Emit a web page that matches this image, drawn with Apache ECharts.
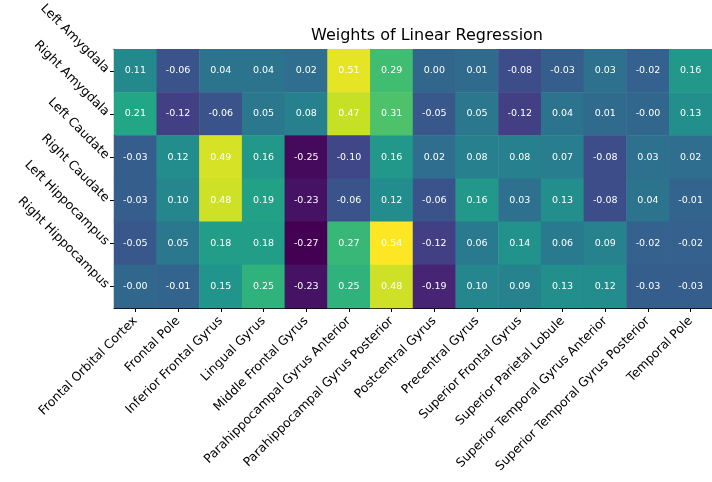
<!DOCTYPE html>
<html>
<head>
<meta charset="utf-8">
<style>
  html, body { margin: 0; padding: 0; background: #fff; }
  #chart { width: 712px; height: 482px; }
</style>
<script src="https://cdn.jsdelivr.net/npm/echarts@6/dist/echarts.min.js"></script>
</head>
<body>
<div id="chart"></div>
<script>
// Brain regions of interest (rows) and cortical regions (columns)
const rowLabels = ['Left Amygdala', 'Right Amygdala', 'Left Caudate', 'Right Caudate', 'Left Hippocampus', 'Right Hippocampus'];
const colLabels = ['Frontal Orbital Cortex', 'Frontal Pole', 'Inferior Frontal Gyrus', 'Lingual Gyrus', 'Middle Frontal Gyrus',
  'Parahippocampal Gyrus Anterior', 'Parahippocampal Gyrus Posterior', 'Postcentral Gyrus', 'Precentral Gyrus',
  'Superior Frontal Gyrus', 'Superior Parietal Lobule', 'Superior Temporal Gyrus Anterior',
  'Superior Temporal Gyrus Posterior', 'Temporal Pole'];

// Regression weights, one array per row (-0 keeps the printed sign)
const leftAmygdala     = [0.11, -0.06, 0.04, 0.04, 0.02, 0.51, 0.29, 0.00, 0.01, -0.08, -0.03, 0.03, -0.02, 0.16];
const rightAmygdala    = [0.21, -0.12, -0.06, 0.05, 0.08, 0.47, 0.31, -0.05, 0.05, -0.12, 0.04, 0.01, -0, 0.13];
const leftCaudate      = [-0.03, 0.12, 0.49, 0.16, -0.25, -0.10, 0.16, 0.02, 0.08, 0.08, 0.07, -0.08, 0.03, 0.02];
const rightCaudate     = [-0.03, 0.10, 0.48, 0.19, -0.23, -0.06, 0.12, -0.06, 0.16, 0.03, 0.13, -0.08, 0.04, -0.01];
const leftHippocampus  = [-0.05, 0.05, 0.18, 0.18, -0.27, 0.27, 0.54, -0.12, 0.06, 0.14, 0.06, 0.09, -0.02, -0.02];
const rightHippocampus = [-0, -0.01, 0.15, 0.25, -0.23, 0.25, 0.48, -0.19, 0.10, 0.09, 0.13, 0.12, -0.03, -0.03];

const weightRows = [leftAmygdala, rightAmygdala, leftCaudate, rightCaudate, leftHippocampus, rightHippocampus];

const cells = [];
weightRows.forEach((row, r) => row.forEach((v, c) => cells.push([c, r, v])));
const allVals = cells.map(d => d[2]);
const vMin = Math.min(...allVals);
const vMax = Math.max(...allVals);

const viridis = ['#440154', '#482475', '#414487', '#355f8d', '#2a788e', '#21918c',
  '#22a884', '#44bf70', '#7ad151', '#bddf26', '#fde725'];

function fmt(v) {
  const neg = v < 0 || Object.is(v, -0);
  return (neg ? '-' : '') + Math.abs(v).toFixed(2);
}

const FONT = 'DejaVu Sans';
const chart = echarts.init(document.getElementById('chart'), null, { renderer: 'canvas' });
chart.setOption({
  animation: false,
  backgroundColor: '#ffffff',
  title: {
    text: 'Weights of Linear Regression',
    left: 422, top: 23, textAlign: 'center',
    textStyle: { fontFamily: FONT, fontSize: 16, fontWeight: 'normal', color: '#000' }
  },
  grid: { left: 114, top: 47, width: 606, height: 261, containLabel: false },
  xAxis: [{
    type: 'category', data: colLabels, position: 'bottom',
    axisLine: { show: true, lineStyle: { color: '#000', width: 1 } },
    axisTick: { show: true, alignWithLabel: true, length: 4, lineStyle: { color: '#000' } },
    axisLabel: { rotate: 45, interval: 0, margin: 11, fontFamily: FONT, fontSize: 12.4, color: '#000' },
    splitLine: { show: false }, splitArea: { show: false }
  }, {
    type: 'category', data: colLabels, position: 'top',
    axisLine: { show: true, lineStyle: { color: '#000', width: 1 } },
    axisTick: { show: false }, axisLabel: { show: false }
  }],
  yAxis: [{
    type: 'category', data: rowLabels, inverse: true,
    axisLine: { show: true, lineStyle: { color: '#000', width: 1 } },
    axisTick: { show: true, alignWithLabel: true, length: 4, lineStyle: { color: '#000' } },
    axisLabel: { rotate: -45, interval: 0, margin: 7, fontFamily: FONT, fontSize: 12.6, color: '#000' },
    splitLine: { show: false }, splitArea: { show: false }
  }],
  visualMap: {
    show: false, type: 'continuous', min: vMin, max: vMax, dimension: 2,
    inRange: { color: viridis }
  },
  series: [{
    type: 'heatmap', data: cells,
    label: {
      show: true, color: '#fff', fontFamily: FONT, fontSize: 9.5,
      formatter: p => fmt(p.data[2])
    },
    itemStyle: { borderWidth: 0 },
    emphasis: { disabled: true }
  }]
});
</script>
</body>
</html>
